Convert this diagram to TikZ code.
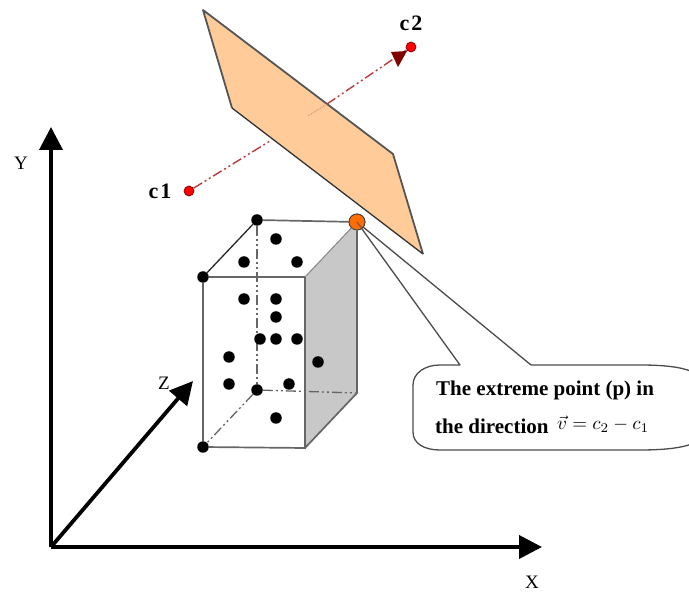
\documentclass[tikz,border=0pt]{standalone}
\usepackage{fontspec}
\setmainfont{Liberation Serif}
\usetikzlibrary{arrows.meta}
\definecolor{planefill}{HTML}{FFCC99}
\definecolor{planeedge}{HTML}{555555}
\definecolor{facegray}{HTML}{C8C8C8}
\definecolor{edgegray}{HTML}{666666}
\definecolor{rayred}{HTML}{B83A3A}
\definecolor{headred}{HTML}{800000}
\tikzset{
  dotpt/.style={circle,fill=black,inner sep=0pt,minimum size=11.5pt},
  redpt/.style={circle,fill=red,draw=headred,line width=.7pt,inner sep=0pt,minimum size=10pt},
  extpt/.style={circle,fill=orange!85!red,draw=black!75,line width=.8pt,inner sep=0pt,minimum size=16pt},
  axis/.style={line width=3.8pt,-{Triangle[length=23pt,width=23pt]}},
  edge/.style={draw=edgegray,line width=1.7pt},
  hidden/.style={draw=edgegray,line width=1.3pt,dash pattern=on 10pt off 3pt on 2pt off 3pt on 2pt off 3pt},
  ray/.style={draw=rayred,line width=1.4pt,dash pattern=on 10pt off 3pt on 2pt off 3pt on 2pt off 3pt},
  axlabel/.style={font=\fontsize{19}{21}\selectfont,inner sep=0pt},
  cplabel/.style={font=\fontsize{22}{24}\selectfont\bfseries\addfontfeature{LetterSpace=9},inner sep=0pt},
  calltext/.style={font=\fontsize{21}{23}\selectfont\bfseries,inner sep=0pt,anchor=base west}
}
\begin{document}
\begin{tikzpicture}[x=1pt,y=-1pt]
\useasboundingbox (0,0) rectangle (689,593);
\clip (0,0) rectangle (689,593);
% axes
\coordinate (O) at (51,547);
\coordinate (Yend) at (51,127);
\coordinate (Xend) at (542,547);
\coordinate (Zend) at (193,381);
\draw[axis] (O) -- (Yend);
\draw[axis] (O) -- (Xend);
\draw[axis] (O) -- (Zend);
\node[axlabel] (ylab) at (21,163) {Y};
\node[axlabel] (xlab) at (532,582) {X};
\node[axlabel] (zlab) at (164,383) {Z};
% centre line, plane
\coordinate (P1) at (203,10);
\coordinate (P2) at (393,154);
\coordinate (P3) at (423,254);
\coordinate (P4) at (232,108);
\node[redpt] (c1) at (189,191) {};
\node[redpt] (c2) at (411,47) {};
\node[cplabel] (c1lab) at (160,191) {c1};
\node[cplabel] (c2lab) at (411,23) {c2};
\coordinate (rayin) at (270,141);
\coordinate (raymid) at (308,116);
\coordinate (rayout) at (327,104);
\coordinate (H1) at (391,52);
\coordinate (H2) at (407,51);
\coordinate (H3) at (398,67);
\draw[ray] (c1) -- (rayin);
\fill[planefill] (P1) -- (P2) -- (P3) -- (P4) -- cycle;
\draw[planeedge,line width=1.8pt,line join=round] (P4) -- (P1) -- (P2) -- (P3);
\draw[black!80,line width=1.3pt] (P3) -- (P4);
\draw[rayred!70,line width=.8pt,densely dotted] (raymid) -- (rayout);
\draw[ray] (rayout) -- (c2);
\fill[headred] (H1) -- (H2) -- (H3) -- cycle;
% cuboid
\coordinate (FTR) at (305,277);
\coordinate (FBR) at (305,448);
\coordinate (BBR) at (357,393);
\node[dotpt] (FTL) at (203,277) {};
\node[dotpt] (FBL) at (203,447) {};
\node[dotpt] (BTL) at (257,220) {};
\node[dotpt] (BBL) at (257,390) {};
\node[extpt] (p) at (357,222) {};
\fill[facegray] (FTR) -- (p.center) -- (BBR) -- (FBR) -- cycle;
\draw[hidden] (BTL) -- (BBL);
\draw[hidden] (BBL) -- (BBR);
\draw[hidden] (BBL) -- (FBL);
\draw[edge] (FTL) -- (FTR) -- (FBR) -- (FBL) -- (FTL);
\draw[edge] (BTL) -- (p);
\draw[edge] (p) -- (BBR) -- (FBR);
\draw[edge,line width=1pt,draw=edgegray!80] (FTR) -- (p);
\draw[black!85,line width=1.3pt] (FTL) -- (BTL);
% data points
\foreach \n/\x/\y in {a/276/239,b/244/262,c/297/262,d/244/299,e/276/299,f/276/317,g/260/339,h/276/339,i/297/339,j/229/357,k/318/362,l/229/384,m/289/384,n/276/418}
  \node[dotpt] (pt\n) at (\x,\y) {};
% callout
\coordinate (T1) at (460,365);
\coordinate (T2) at (531,365);
\draw[fill=white,draw=black!70,line width=1.3pt,line join=round]
  (T1) -- (p.center) -- (T2) -- (640,365)
  .. controls (670,365) and (689,368) .. (700,376)
  -- (700,440)
  .. controls (689,447) and (670,450) .. (640,450)
  -- (440,450)
  .. controls (425,450) and (413,444) .. (413,432)
  -- (413,385)
  .. controls (413,373) and (425,365) .. (440,365)
  -- cycle;
\node[extpt] (pp) at (p) {};
\draw[black!70,line width=.8pt] (p.center) -- (363,230);
\node[calltext] (t1) at (436,396) {The extreme point (p) in};
\node[calltext] (t2) at (435,434) {the direction};
\node[inner sep=0pt,anchor=base west] (t3) at (557,430) {\scalebox{1.9}{$\vec{v}=c_2-c_1$}};
\end{tikzpicture}
\end{document}
